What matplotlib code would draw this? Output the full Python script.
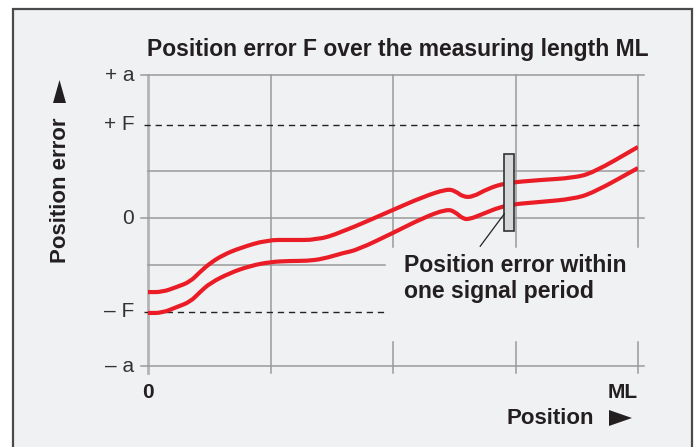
import matplotlib.pyplot as plt
from matplotlib.patches import Rectangle, Polygon, PathPatch
from matplotlib.path import Path

# sizes of the picture in pixels
W, H = 699, 447

# position along measuring length (0 .. ML) and error in units of F
x_upper = [0, 0.029, 0.059, 0.086, 0.106, 0.127, 0.153, 0.188, 0.243, 0.29, 0.345, 0.392,
           0.5, 0.561, 0.61, 0.627, 0.643, 0.663, 0.692, 0.729, 0.8, 0.867, 0.908, 1.0]
y_upper = [-0.79, -0.79, -0.735, -0.68, -0.575, -0.48, -0.394, -0.318, -0.233, -0.233, -0.233, -0.158,
           0.088, 0.227, 0.312, 0.291, 0.227, 0.227, 0.312, 0.376, 0.408, 0.43, 0.483, 0.761]

x_lower = [0, 0.029, 0.059, 0.086, 0.106, 0.127, 0.167, 0.208, 0.249, 0.29, 0.324, 0.357, 0.398,
           0.427, 0.5, 0.561, 0.61, 0.627, 0.643, 0.657, 0.678, 0.729, 0.8, 0.867, 0.908, 1.0]
y_lower = [-1.013, -1.013, -0.949, -0.895, -0.79, -0.693, -0.586, -0.511, -0.468, -0.457, -0.457, -0.436, -0.372,
           -0.34, -0.158, 0.002, 0.098, 0.066, -0.009, -0.009, 0.034, 0.141, 0.173, 0.205, 0.269, 0.536]

# levels of the y axis
a_top, a_bot = 1.53, -1.58
F = 1.0
y_tick_vals = [a_top, F, 0, -F, a_bot]
y_tick_labels = ['+ a', '+ F', '0', '\u2013 F', '\u2013 a']
x_grid = [0, 0.25, 0.5, 0.75, 1.0]

# box marking one signal period
box_x, box_w = 0.727, 0.0204
box_y0, box_y1 = -0.137, 0.686

red = '#ea1d27'
grid_col = '#9a9a9a'
txt_col = '#231f20'

plt.rcParams['font.family'] = ['Liberation Sans', 'DejaVu Sans']

fig = plt.figure(figsize=(W / 100, H / 100), dpi=100, facecolor='white')

def px(x, y):
    # pixel position (from top left) to figure fraction
    return x / W, 1 - y / H

def smooth_path(xs, ys):
    # quadratic bezier through the midpoints, the read points act as controls
    pts = list(zip(xs, ys))
    verts = [pts[0]]
    codes = [Path.MOVETO]
    mid = lambda p, q: ((p[0] + q[0]) / 2, (p[1] + q[1]) / 2)
    verts.append(mid(pts[0], pts[1]))
    codes.append(Path.LINETO)
    for i in range(1, len(pts) - 1):
        verts += [pts[i], mid(pts[i], pts[i + 1])]
        codes += [Path.CURVE3, Path.CURVE3]
    verts.append(pts[-1])
    codes.append(Path.LINETO)
    return Path(verts, codes)

# panel background with frame
fig.patches.append(Rectangle(px(12.7, 470), (692 - 12.7) / W, (470 - 9) / H,
                             transform=fig.transFigure, facecolor='#f0f1f3',
                             edgecolor='#4a4a4a', linewidth=1.6, zorder=-5))

left, right = 148 / W, 638 / W
bottom, top = 1 - 366 / H, 1 - 75 / H
ax = fig.add_axes([left, bottom, right - left, top - bottom], zorder=2)
ax.set_xlim(0, 1)
ax.set_ylim(a_bot, a_top)
ax.axis('off')

lw_g = 1.1
# vertical grid lines
ax.plot([0, 0], [a_bot - 0.075, a_top], color='#b4b4b4', lw=2.0, clip_on=False, zorder=1)
ax.plot([0.25, 0.25], [a_bot - 0.075, a_top], color=grid_col, lw=lw_g, clip_on=False, zorder=1)
for xv in x_grid[2:]:
    ax.plot([xv, xv], [-0.31, a_top], color=grid_col, lw=lw_g, clip_on=False, zorder=1)
    ax.plot([xv, xv], [a_bot - 0.075, -1.32], color=grid_col, lw=lw_g, clip_on=False, zorder=1)

# horizontal grid lines
for yv in [a_top, 0, a_bot]:
    ax.plot([-0.015, 1.012], [yv, yv], color=grid_col, lw=lw_g, clip_on=False, zorder=1)
ax.plot([0, 1.012], [0.5, 0.5], color=grid_col, lw=lw_g, clip_on=False, zorder=1)
ax.plot([0, 0.484], [-0.5, -0.5], color=grid_col, lw=lw_g, clip_on=False, zorder=1)

# tolerance lines +F / -F
ax.plot([-0.008, 1.012], [F, F], color='#222222', lw=1.0, ls=(0, (4.5, 3.5)), clip_on=False, zorder=2)
ax.plot([-0.008, 0.484], [-F, -F], color='#222222', lw=1.0, ls=(0, (4.5, 3.5)), clip_on=False, zorder=2)

# error curves
for xs, ys in [(x_upper, y_upper), (x_lower, y_lower)]:
    ax.add_patch(PathPatch(smooth_path(xs, ys), facecolor='none', edgecolor=red,
                           lw=3.0, joinstyle='round', capstyle='butt', zorder=3))

# signal period box and leader line
ax.add_patch(Rectangle((box_x, box_y0), box_w, box_y1 - box_y0, facecolor='#d6d7d9',
                       edgecolor='#333333', lw=1.2, zorder=4))
ax.plot([0.678, box_x], [-0.30, 0.045], color='#222222', lw=0.9, zorder=4)

# y tick labels
for yv, lab in zip(y_tick_vals, y_tick_labels):
    ax.text(-0.028, yv, lab, ha='right', va='center', fontsize=15, color='#333333')

# x labels
ax.text(0, a_bot - 0.28, '0', ha='center', va='center', fontsize=15,
        fontweight='bold', color=txt_col)
ax.text(1.0, a_bot - 0.28, 'ML', ha='right', va='center', fontsize=15,
        fontweight='bold', color=txt_col)
fig.text(*px(506, 418), 'Position', ha='left', va='center', fontsize=16,
         fontweight='bold', color=txt_col)
# arrow heads drawn as small triangles
fig.patches.append(Polygon([px(609, 410), px(609, 426), px(632, 418)], closed=True,
                           transform=fig.transFigure, facecolor=txt_col, edgecolor='none'))
fig.patches.append(Polygon([px(53, 103), px(66, 103), px(59.5, 80)], closed=True,
                           transform=fig.transFigure, facecolor=txt_col, edgecolor='none'))

# y axis label
fig.text(*px(60, 190), 'Position error', rotation=90, ha='center', va='center',
         fontsize=16, fontweight='bold', color=txt_col)

# title
fig.text(*px(147, 56), 'Position error F over the measuring length ML', ha='left',
         va='baseline', fontsize=16.5, fontweight='bold', color=txt_col)

# annotation
fig.text(*px(404, 272), 'Position error within', ha='left', va='baseline',
         fontsize=16.6, fontweight='bold', color=txt_col)
fig.text(*px(404, 298), 'one signal period', ha='left', va='baseline',
         fontsize=16.6, fontweight='bold', color=txt_col)

fig.savefig('out.png', dpi=100, facecolor='white')
